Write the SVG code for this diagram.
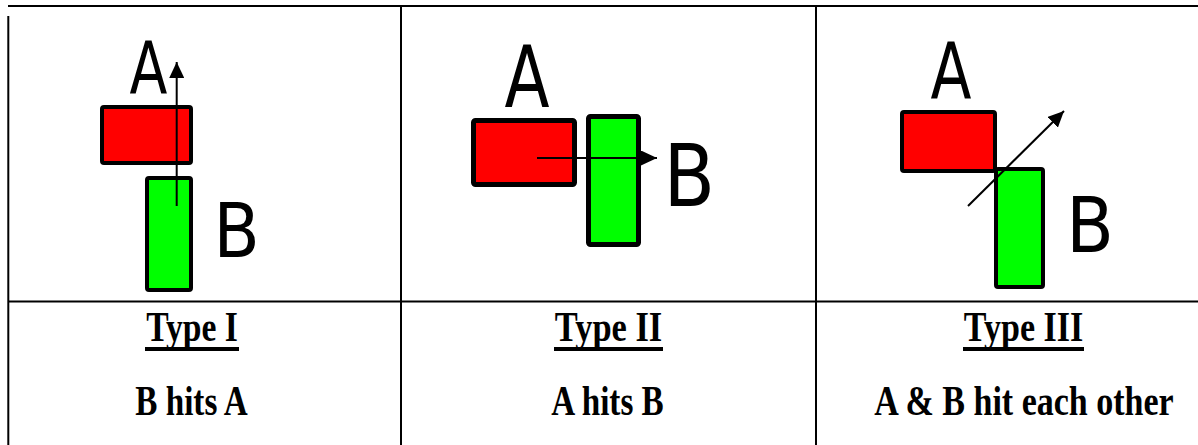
<svg xmlns="http://www.w3.org/2000/svg" width="1198" height="445" viewBox="0 0 1198 445">
<style>
.grid{stroke:#000;stroke-width:2;fill:none}
.a{fill:#ff0000;stroke:#000;stroke-linejoin:round}
.b{fill:#00ff00;stroke:#000;stroke-linejoin:round}
.big{font-family:"DejaVu Sans",Verdana,sans-serif;fill:#000}
.cap{font-family:"Liberation Serif","Times New Roman",serif;font-weight:bold;font-size:42px;fill:#000;text-anchor:middle}
.arr{stroke:#000;stroke-width:2;fill:none;marker-end:url(#head)}
</style>
<defs>
<marker id="head" markerUnits="userSpaceOnUse" markerWidth="16" markerHeight="15" refX="16" refY="7.5" orient="auto">
<path d="M0,0 L16,7.5 L0,15 z" fill="#000"/>
</marker>
</defs>
<rect width="1198" height="445" fill="#fff"/>
<g id="table">
<line class="grid" x1="8" y1="6" x2="1198" y2="6"/>
<line class="grid" x1="8.3" y1="16" x2="8.3" y2="445"/>
<line class="grid" x1="401" y1="6" x2="401" y2="445"/>
<line class="grid" x1="816" y1="6" x2="816" y2="445"/>
<line class="grid" x1="8" y1="301.5" x2="1198" y2="301.5"/>
</g>
<g id="p1-A">
<rect class="a" x="102" y="107" width="89" height="56" rx="2" stroke-width="4"/>
<text class="big" font-size="73" transform="translate(129.6,94) scale(0.758,1)">A</text>
</g>
<g id="p1-B">
<rect class="b" x="147" y="178" width="44" height="112" rx="2" stroke-width="4"/>
<text class="big" font-size="74" transform="translate(213.4,257) scale(0.911,1)">B</text>
</g>
<g id="p2-A">
<rect class="a" x="473.5" y="120.5" width="101" height="64" rx="2" stroke-width="5"/>
<text class="big" font-size="85" transform="translate(504.5,107) scale(0.775,1)">A</text>
</g>
<g id="p2-B">
<rect class="b" x="588.5" y="116.5" width="50" height="128" rx="2" stroke-width="5"/>
<text class="big" font-size="85" transform="translate(663.6,206) scale(0.884,1)">B</text>
</g>
<g id="p3-A">
<rect class="a" x="902" y="112" width="93" height="59" rx="2" stroke-width="4"/>
<text class="big" font-size="78" transform="translate(930.5,99) scale(0.768,1)">A</text>
</g>
<g id="p3-B">
<rect class="b" x="996" y="169" width="47" height="118" rx="2" stroke-width="4"/>
<text class="big" font-size="77" transform="translate(1066.2,252) scale(0.9,1)">B</text>
</g>
<g id="connectors">
<line class="arr" x1="176.7" y1="206" x2="176.7" y2="62"/>
<line class="arr" x1="537" y1="158" x2="657" y2="158"/>
<line class="arr" x1="968" y1="206" x2="1064" y2="111"/>
</g>
<g id="label-1">
<text class="cap" transform="translate(192,341) scale(0.8,1)">Type I</text>
<rect x="145" y="347" width="94" height="4" fill="#000"/>
<text class="cap" transform="translate(191.5,415) scale(0.79,1)">B hits A</text>
</g>
<g id="label-2">
<text class="cap" transform="translate(608.5,341) scale(0.82,1)">Type II</text>
<rect x="554" y="347" width="109" height="4" fill="#000"/>
<text class="cap" transform="translate(607.5,415) scale(0.79,1)">A hits B</text>
</g>
<g id="label-3">
<text class="cap" transform="translate(1023.5,341) scale(0.81,1)">Type III</text>
<rect x="963" y="347" width="121" height="4" fill="#000"/>
<text class="cap" transform="translate(1024,415) scale(0.81,1)">A &amp; B hit each other</text>
</g>
</svg>
